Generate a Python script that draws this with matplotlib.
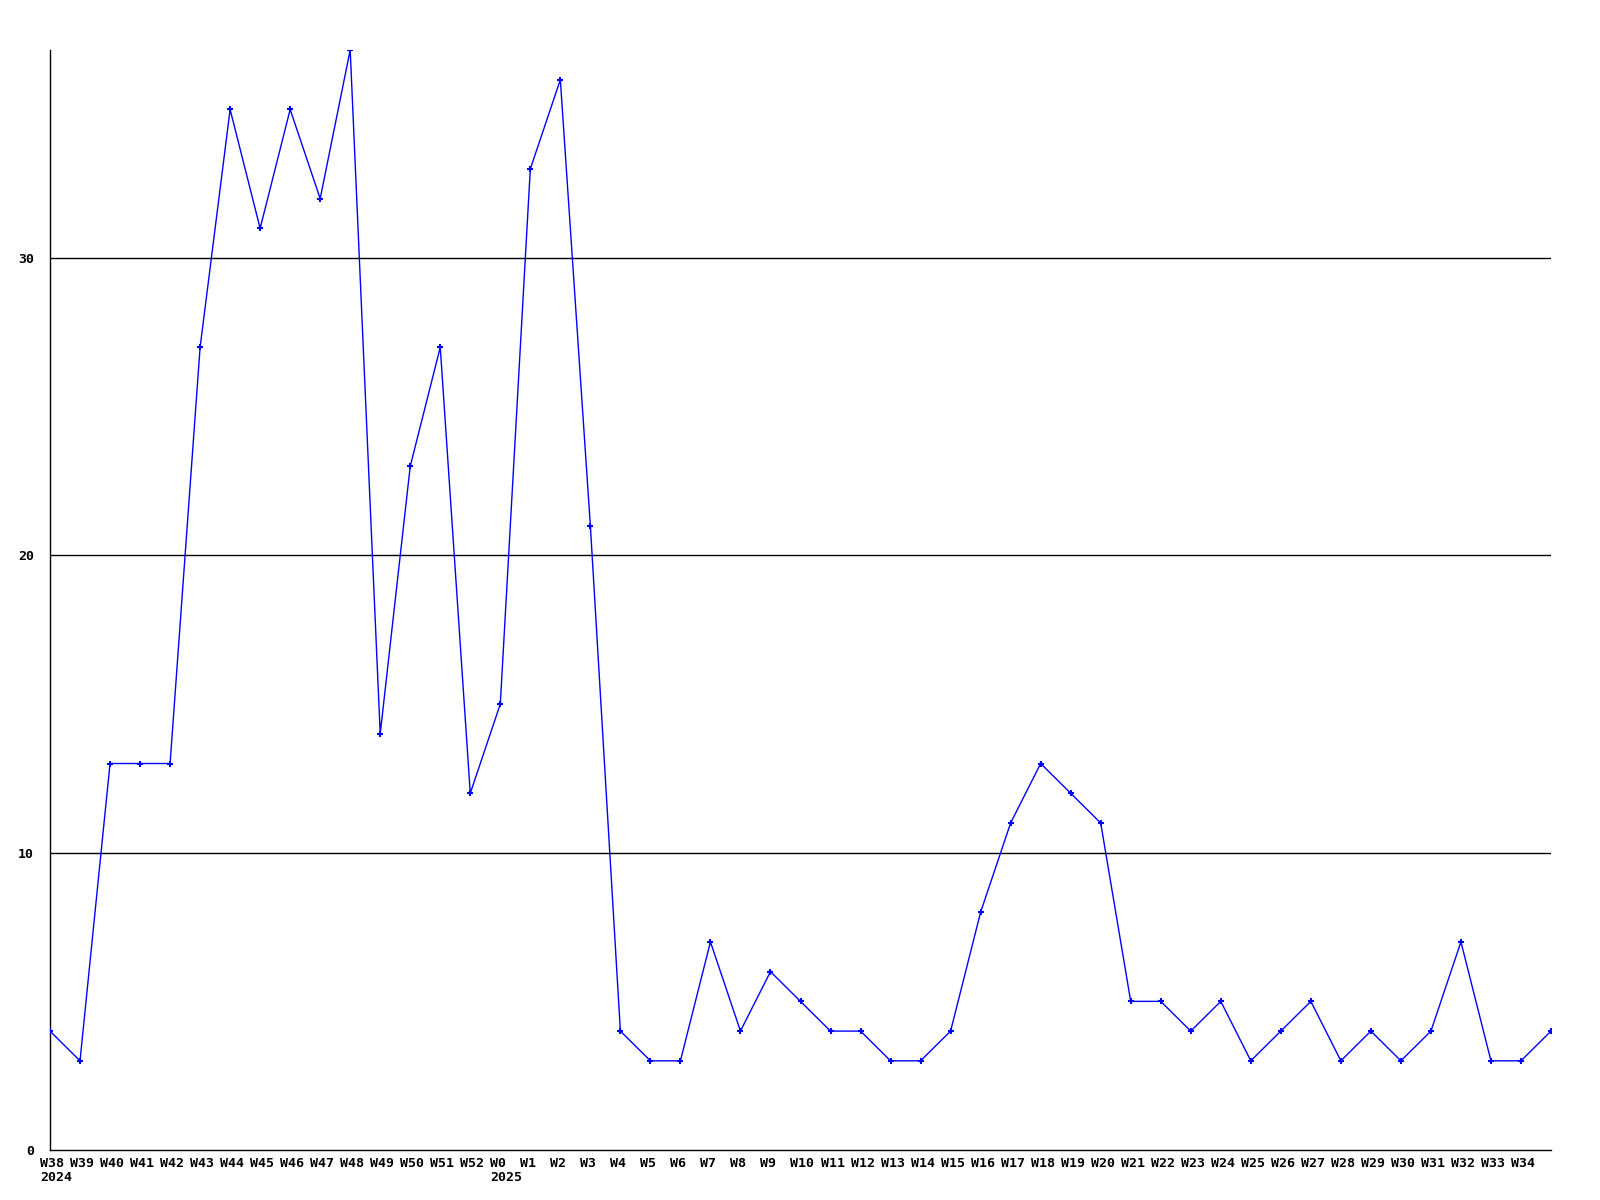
import matplotlib
matplotlib.use("Agg")
import matplotlib.pyplot as plt

weeks = ["W38", "W39", "W40", "W41", "W42", "W43", "W44", "W45", "W46", "W47",
         "W48", "W49", "W50", "W51", "W52",
         "W0", "W1", "W2", "W3", "W4", "W5", "W6", "W7", "W8", "W9",
         "W10", "W11", "W12", "W13", "W14", "W15", "W16", "W17", "W18", "W19",
         "W20", "W21", "W22", "W23", "W24", "W25", "W26", "W27", "W28", "W29",
         "W30", "W31", "W32", "W33", "W34", ""]
years = {"W38": "2024", "W0": "2025"}
counts = [4, 3, 13, 13, 13, 27, 35, 31, 35, 32,
          37, 14, 23, 27, 12,
          15, 33, 36, 21, 4, 3, 3, 7, 4, 6,
          5, 4, 4, 3, 3, 4, 8, 11, 13, 12,
          11, 5, 5, 4, 5, 3, 4, 5, 3, 4,
          3, 4, 7, 3, 3, 4]
y_ticks = [0, 10, 20, 30]

fig = plt.figure(figsize=(16, 12), dpi=100)
ax = fig.add_axes([50 / 1600, 50 / 1200, 1501 / 1600, 1100 / 1200])

x = list(range(len(counts)))
ax.plot(x, counts, color="#0000ff", linewidth=1, marker="+", markersize=5,
        markeredgewidth=1.5, zorder=3)

for t in y_ticks[1:]:
    ax.axhline(t, color="black", linewidth=1, zorder=1)

for s in ["top", "right"]:
    ax.spines[s].set_visible(False)
for s in ["left", "bottom"]:
    ax.spines[s].set_color("black")
    ax.spines[s].set_linewidth(1)

font = dict(family="DejaVu Sans Mono", weight="bold", size=9.5)

# week labels start a little left of each point, year under the first week
ax.set_xticks([])
for i, w in zip(x, weeks):
    if not w:
        continue
    text = w + ("\n" + years[w] if w in years else "")
    ax.annotate(text, xy=(i, 0), xycoords=("data", "axes fraction"),
                xytext=(-7.2, -5), textcoords="offset points",
                ha="left", va="top", linespacing=1.1,
                annotation_clip=False, **font)

ax.set_yticks(y_ticks)
ax.set_yticklabels([str(t) for t in y_ticks], **font)
ax.tick_params(axis="both", length=0)
ax.tick_params(axis="y", pad=11.5)

ax.set_xlim(0, len(counts) - 1)
ax.set_ylim(0, max(counts))

fig.savefig("out.png", dpi=100)
